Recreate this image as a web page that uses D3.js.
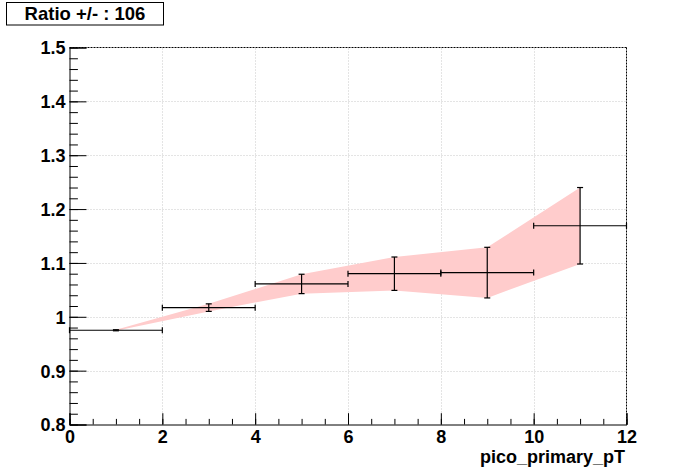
<!DOCTYPE html>
<html>
<head>
<meta charset="utf-8">
<script src="https://cdn.jsdelivr.net/npm/d3@7"></script>
<style>
  html, body { margin: 0; padding: 0; background: #fff; }
  svg { display: block; }
  text { font-family: "Liberation Sans", Arial, Helvetica, sans-serif; font-weight: bold; }
</style>
</head>
<body>
<script>
// ---- data ----
const binLow    = [0, 2, 4, 6, 8, 10];
const binHigh   = [2, 4, 6, 8, 10, 12];
const binCenter = [1, 3, 5, 7, 9, 11];
const ratio     = [0.975, 1.017, 1.061, 1.080, 1.082, 1.169];
const ratioErr  = [0.001, 0.007, 0.018, 0.031, 0.047, 0.071];
const xTicks    = [0, 2, 4, 6, 8, 10, 12];
const yTicks    = [0.8, 0.9, 1.0, 1.1, 1.2, 1.3, 1.4, 1.5];
const yTickLabels = ["0.8", "0.9", "1", "1.1", "1.2", "1.3", "1.4", "1.5"];
const titleText = "Ratio +/- : 106";
const xTitle    = "pico_primary_pT";

const W = 696, H = 472;
const svg = d3.select("body").append("svg").attr("width", W).attr("height", H);
svg.append("rect").attr("width", W).attr("height", H).attr("fill", "#fff");

const x = d3.scaleLinear().domain([0, 12]).range([69.5, 626.5]);
const y = d3.scaleLinear().domain([0.8, 1.5]).range([424.5, 47.5]);

const data = binCenter.map((c, i) => ({ c, lo: binLow[i], hi: binHigh[i], v: ratio[i], e: ratioErr[i] }));

// grid
const grid = svg.append("g");
grid.selectAll("line.gx").data(xTicks.slice(1, -1)).enter().append("line")
  .attr("x1", d => Math.round(x(d)) + 0.5).attr("x2", d => Math.round(x(d)) + 0.5)
  .attr("y1", y(0.8)).attr("y2", y(1.5))
  .attr("stroke", "#c8c8c8").attr("stroke-dasharray", "1,2");
grid.selectAll("line.gy").data(yTicks.slice(1, -1)).enter().append("line")
  .attr("y1", d => Math.round(y(d)) + 0.5).attr("y2", d => Math.round(y(d)) + 0.5)
  .attr("x1", x(0)).attr("x2", x(12))
  .attr("stroke", "#c8c8c8").attr("stroke-dasharray", "1,2");

// band
const area = d3.area().x(d => x(d.c)).y0(d => y(d.v - d.e)).y1(d => y(d.v + d.e));
svg.append("path").datum(data).attr("d", area).attr("fill", "#ffcccc").attr("stroke", "none");

// frame top/right (dashed)
svg.append("line").attr("x1", x(0)).attr("x2", x(12)).attr("y1", y(1.5)).attr("y2", y(1.5))
  .attr("stroke", "#000").attr("stroke-dasharray", "2,1");
svg.append("line").attr("x1", x(12)).attr("x2", x(12)).attr("y1", y(1.5)).attr("y2", y(0.8))
  .attr("stroke", "#000").attr("stroke-dasharray", "2,1");

// axes
const axY = svg.append("g").attr("transform", `translate(${x(0)},0)`)
  .call(d3.axisLeft(y).tickValues(yTicks).tickFormat((d, i) => yTickLabels[i]).tickSize(-17).tickPadding(4));
const axYm = svg.append("g").attr("transform", `translate(${x(0)},0)`)
  .call(d3.axisLeft(y).tickValues(d3.range(0, 36).map(i => 0.8 + i * 0.02)).tickFormat("").tickSize(-8.4));
const axX = svg.append("g").attr("transform", `translate(0,${y(0.8)})`)
  .call(d3.axisBottom(x).tickValues(xTicks).tickFormat(d3.format("d")).tickSize(-11.3).tickPadding(6));
const axXm = svg.append("g").attr("transform", `translate(0,${y(0.8)})`)
  .call(d3.axisBottom(x).tickValues(d3.range(0, 25).map(i => i * 0.5)).tickFormat("").tickSize(-5.6));
[axY, axYm, axX, axXm].forEach(g => {
  g.selectAll("path.domain").attr("stroke", "#000").attr("stroke-width", 1);
  g.selectAll(".tick line").attr("stroke", "#000");
  g.selectAll("text").attr("fill", "#000").attr("font-size", 18).attr("font-family", null);
});
axYm.select("path.domain").remove();
axXm.select("path.domain").remove();
axX.selectAll("text").attr("dy", "0.71em");
axY.selectAll("text").attr("dy", "0.36em");

// error bars
const eb = svg.append("g").attr("stroke", "#000").attr("stroke-width", 1.2).attr("fill", "none");
data.forEach(d => {
  const cy = y(d.v), cx = x(d.c);
  eb.append("line").attr("x1", x(d.lo)).attr("x2", x(d.hi)).attr("y1", cy).attr("y2", cy);
  eb.append("line").attr("x1", x(d.lo)).attr("x2", x(d.lo)).attr("y1", cy - 3).attr("y2", cy + 3);
  eb.append("line").attr("x1", x(d.hi)).attr("x2", x(d.hi)).attr("y1", cy - 3).attr("y2", cy + 3);
  eb.append("line").attr("x1", cx).attr("x2", cx).attr("y1", y(d.v - d.e)).attr("y2", y(d.v + d.e));
  eb.append("line").attr("x1", cx - 3).attr("x2", cx + 3).attr("y1", y(d.v - d.e)).attr("y2", y(d.v - d.e));
  eb.append("line").attr("x1", cx - 3).attr("x2", cx + 3).attr("y1", y(d.v + d.e)).attr("y2", y(d.v + d.e));
});

// x title
svg.append("text").attr("x", 625).attr("y", 463).attr("text-anchor", "end")
  .attr("font-size", 18).attr("fill", "#000").text(xTitle);

// title box
svg.append("rect").attr("x", 6.5).attr("y", 2.5).attr("width", 157).attr("height", 22.5)
  .attr("fill", "#fff").attr("stroke", "#000");
svg.append("text").attr("x", 85).attr("y", 19.5).attr("text-anchor", "middle")
  .attr("font-size", 18.5).attr("fill", "#000").text(titleText);
</script>
</body>
</html>
